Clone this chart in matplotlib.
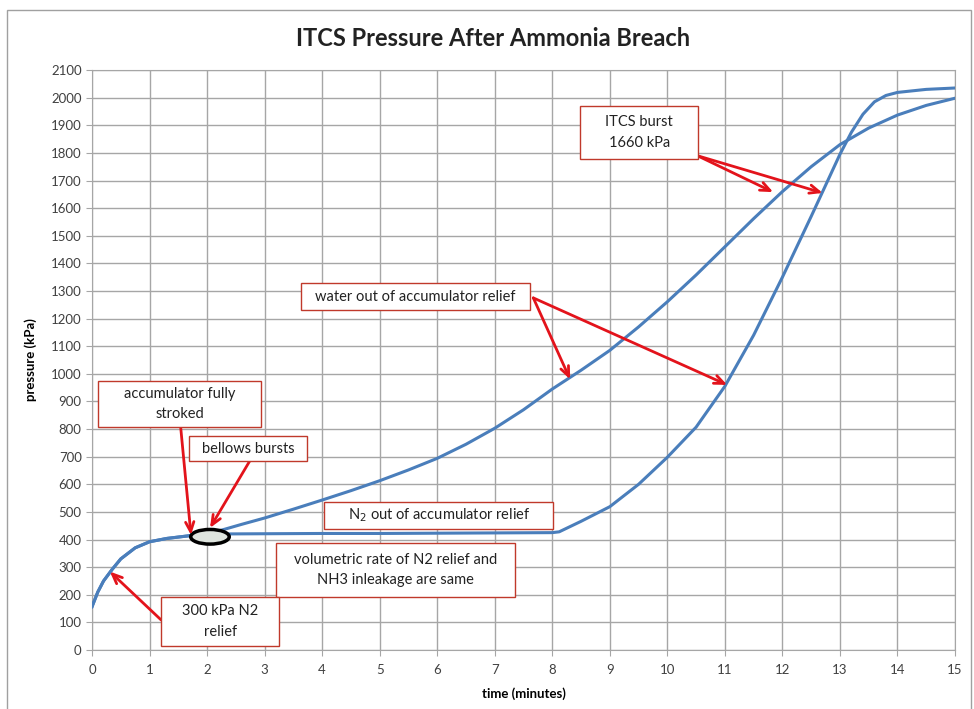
import matplotlib.pyplot as plt
from matplotlib.patches import Ellipse, Rectangle

plt.rcParams['font.family'] = ['Lato', 'DejaVu Sans']

# shared start (N2 relief, up to accumulator fully stroked)
t_start = [0, 0.1, 0.2, 0.35, 0.5, 0.75, 1, 1.3, 1.7, 2]
p_start = [157, 210, 250, 292, 330, 370, 392, 404, 414, 420]

# bellows burst branch
t_burst = [2.3, 2.6, 3, 3.5, 4, 4.5, 5, 5.5, 6, 6.5, 7, 7.5, 8, 8.5, 9, 9.5,
           10, 10.5, 11, 11.5, 12, 12.5, 13, 13.5, 14, 14.5, 15]
p_burst = [437, 455, 478, 510, 543, 577, 613, 652, 694, 745, 803, 870, 945,
           1013, 1085, 1170, 1261, 1358, 1460, 1562, 1660, 1750, 1830, 1890,
           1937, 1972, 1998]

# N2 relief branch
t_relief = [3, 4, 5, 6, 7, 8, 8.12, 8.5, 9, 9.5, 10, 10.5, 11, 11.5, 12, 12.5,
            12.7, 13, 13.2, 13.4, 13.6, 13.8, 14, 14.5, 15]
p_relief = [421, 422, 422, 423, 424, 425, 428, 466, 519, 600, 698, 807, 955,
            1140, 1350, 1570, 1660, 1795, 1875, 1940, 1985, 2008, 2019, 2030,
            2035]

# annotation texts
notes = ['accumulator fully\nstroked', 'bellows bursts',
         'N$_2$ out of accumulator relief',
         'volumetric rate of N2 relief and\nNH3 inleakage are same',
         '300 kPa N2\nrelief', 'water out of accumulator relief',
         'ITCS burst\n1660 kPa']

line_col = '#4a7ebb'
red = '#e3131b'

fig = plt.figure(figsize=(9.74, 7.09), dpi=100)
ax = fig.add_axes([0.0945, 0.0832, 0.886, 0.818])

ax.plot(t_start + t_burst, p_start + p_burst, color=line_col, lw=2.2, zorder=3)
ax.plot(t_start + t_relief, p_start + p_relief, color=line_col, lw=2.2, zorder=3)

ax.set_xlim(0, 15)
ax.set_ylim(0, 2100)
ax.set_xticks(range(0, 16))
ax.set_yticks(range(0, 2101, 100))
ax.grid(True, color='#a6a6a6', lw=1)
ax.set_axisbelow(True)
for s in ax.spines.values():
    s.set_color('#a6a6a6')
ax.tick_params(colors='#404040', labelsize=9.5, length=4, color='#a6a6a6')
ax.tick_params(axis='x', pad=6)

ax.set_xlabel('time (minutes)', fontsize=9.5, fontweight='bold', labelpad=8)
ax.set_ylabel('pressure (kPa)', fontsize=9.5, fontweight='bold', labelpad=10)
fig.text(0.506, 0.946, 'ITCS Pressure After Ammonia Breach', ha='center',
         va='center', fontsize=17, fontweight='bold', color='#222222')

# marker at the bellows burst
ax.add_patch(Ellipse((2.05, 410), 0.67, 53, facecolor='#dfe5df',
                     edgecolor='black', lw=2.5, zorder=4))

arrow = dict(arrowstyle='->,head_length=0.7,head_width=0.3', color=red, lw=2,
             shrinkA=0, shrinkB=0)

# (x0, x1, y0, y1) of each box in data units
boxes = [(0.104, 2.939, 808, 974), (1.687, 3.739, 684, 775),
         (4.035, 8.017, 438, 536), (3.2, 7.357, 192, 387),
         (1.2, 3.252, 14, 192), (3.635, 7.617, 1231, 1329),
         (8.487, 10.539, 1778, 1970)]
arrows = [[((1.72, 416), (1.54, 808))],
          [((2.05, 442), (2.74, 684))],
          [],
          [],
          [((0.31, 284), (1.2, 109))],
          [((8.31, 980), (7.67, 1275)), ((11.04, 960), (7.67, 1275))],
          [((11.84, 1658), (10.52, 1790)), ((12.70, 1655), (10.52, 1790))]]

for text, (x0, x1, y0, y1), arr in zip(notes, boxes, arrows):
    for tip, tail in arr:
        ax.annotate('', xy=tip, xytext=tail, arrowprops=arrow, zorder=5)
    ax.add_patch(Rectangle((x0, y0), x1 - x0, y1 - y0, fc='white',
                           ec='#c0392b', lw=1, zorder=6))
    ax.text((x0 + x1) / 2, (y0 + y1) / 2, text, ha='center', va='center',
            fontsize=10.5, color='#222222', zorder=7, linespacing=1.6)

fig.patches.append(Rectangle((7 / 974, -0.01), 964 / 974, 1 - 10 / 709 + 0.01,
                             transform=fig.transFigure, fill=False,
                             ec='#a0a0a0', lw=1))

fig.savefig('out.png', dpi=100)
